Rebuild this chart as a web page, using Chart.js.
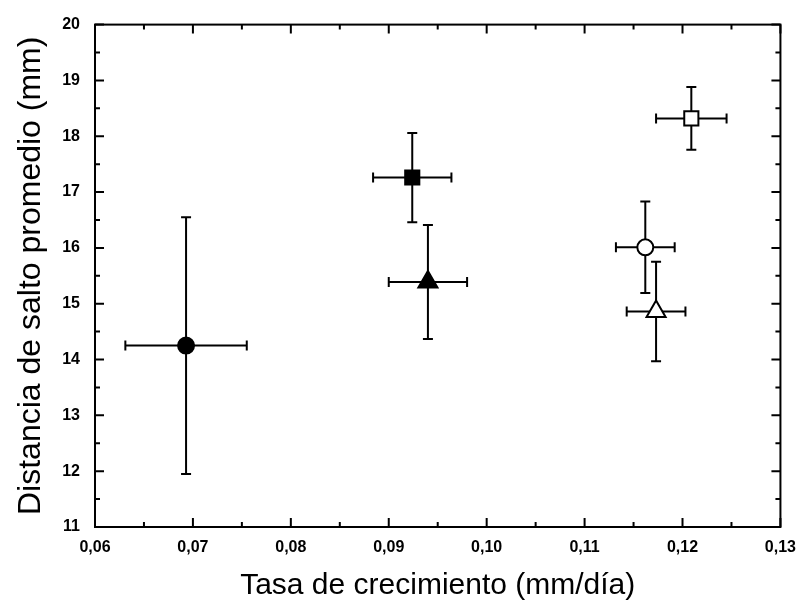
<!DOCTYPE html>
<html>
<head>
<meta charset="utf-8">
<script src="https://cdn.jsdelivr.net/npm/chart.js@4.4.1/dist/chart.umd.min.js"></script>
<style>
  body { margin: 0; background: #fff; }
</style>
</head>
<body>
<canvas id="myChart" width="807" height="604"></canvas>
<script>
// datos
const tasa = [0.0693, 0.0924, 0.0940, 0.1162, 0.1173, 0.1209];
const salto = [14.25, 17.26, 15.39, 16.01, 14.86, 18.32];
const errTasa = [0.0062, 0.0040, 0.0040, 0.0030, 0.0030, 0.0036];
const errSalto = [2.30, 0.80, 1.02, 0.82, 0.89, 0.56];
const simbolos = ['circle', 'rect', 'triangle', 'circle', 'triangle', 'rect'];
const rellenos = ['#000', '#000', '#000', '#fff', '#fff', '#fff'];
const radios = [8, 10, 11, 8, 11, 10];
const xTicks = [0.06, 0.13, 0.01];
const yTicks = [11, 20, 1];

window.addEventListener('DOMContentLoaded', function () {

    const puntos = tasa.map(function (x, i) {
        return { x: x, y: salto[i] };
    });

    const marco = {
        id: 'marco',
        beforeDatasetsDraw: function (chart) {
            // barras de error
            const ctx = chart.ctx;
            const sx = chart.scales.x;
            const sy = chart.scales.y;
            const cap = 5;
            ctx.save();
            ctx.strokeStyle = '#000';
            ctx.lineWidth = 2;
            puntos.forEach(function (p, i) {
                const px = sx.getPixelForValue(p.x);
                const py = sy.getPixelForValue(p.y);
                const x1 = sx.getPixelForValue(p.x - errTasa[i]);
                const x2 = sx.getPixelForValue(p.x + errTasa[i]);
                const y1 = sy.getPixelForValue(p.y + errSalto[i]);
                const y2 = sy.getPixelForValue(p.y - errSalto[i]);
                ctx.beginPath();
                ctx.moveTo(x1, py); ctx.lineTo(x2, py);
                ctx.moveTo(x1, py - cap); ctx.lineTo(x1, py + cap);
                ctx.moveTo(x2, py - cap); ctx.lineTo(x2, py + cap);
                ctx.moveTo(px, y1); ctx.lineTo(px, y2);
                ctx.moveTo(px - cap, y1); ctx.lineTo(px + cap, y1);
                ctx.moveTo(px - cap, y2); ctx.lineTo(px + cap, y2);
                ctx.stroke();
            });
            ctx.restore();
        },
        afterDatasetsDraw: function (chart) {
            const ctx = chart.ctx;
            const a = chart.chartArea;
            const sx = chart.scales.x;
            const sy = chart.scales.y;
            ctx.save();
            ctx.strokeStyle = '#000';
            ctx.lineWidth = 2;
            ctx.strokeRect(a.left, a.top, a.right - a.left, a.bottom - a.top);
            // marcas hacia dentro, en los cuatro lados
            ctx.beginPath();
            const xt = sx.ticks.map(function (t) { return t.value; });
            xt.forEach(function (v, i) {
                const px = sx.getPixelForValue(v);
                ctx.moveTo(px, a.bottom); ctx.lineTo(px, a.bottom - 9);
                ctx.moveTo(px, a.top); ctx.lineTo(px, a.top + 9);
                if (i < xt.length - 1) {
                    const pm = sx.getPixelForValue((v + xt[i + 1]) / 2);
                    ctx.moveTo(pm, a.bottom); ctx.lineTo(pm, a.bottom - 5);
                    ctx.moveTo(pm, a.top); ctx.lineTo(pm, a.top + 5);
                }
            });
            const yt = sy.ticks.map(function (t) { return t.value; });
            yt.forEach(function (v, i) {
                const py = sy.getPixelForValue(v);
                ctx.moveTo(a.left, py); ctx.lineTo(a.left + 9, py);
                ctx.moveTo(a.right, py); ctx.lineTo(a.right - 9, py);
                if (i < yt.length - 1) {
                    const pm = sy.getPixelForValue((v + yt[i + 1]) / 2);
                    ctx.moveTo(a.left, pm); ctx.lineTo(a.left + 5, pm);
                    ctx.moveTo(a.right, pm); ctx.lineTo(a.right - 5, pm);
                }
            });
            ctx.stroke();
            ctx.restore();
        }
    };

    const fam = '"Liberation Sans", Arial, sans-serif';

    new Chart(document.getElementById('myChart'), {
        type: 'scatter',
        data: {
            datasets: [{
                data: puntos,
                pointStyle: simbolos,
                pointRadius: radios,
                pointHoverRadius: radios,
                pointBackgroundColor: rellenos,
                pointBorderColor: '#000',
                pointBorderWidth: 2
            }]
        },
        options: {
            responsive: false,
            animation: false,
            layout: { padding: { top: 17, right: 25, left: 0, bottom: 0 } },
            plugins: {
                legend: { display: false },
                tooltip: { enabled: false }
            },
            scales: {
                x: {
                    type: 'linear',
                    min: xTicks[0],
                    max: xTicks[1],
                    afterFit: function (scale) { scale.height = 77; },
                    grid: { display: false, drawTicks: false },
                    border: { display: false },
                    ticks: {
                        stepSize: xTicks[2],
                        padding: 11,
                        color: '#000',
                        font: { family: fam, size: 16, weight: 'bold' },
                        maxRotation: 0,
                        callback: function (v) { return v.toFixed(2).replace('.', ','); }
                    },
                    title: {
                        display: true,
                        text: 'Tasa de crecimiento (mm/día)',
                        color: '#000',
                        font: { family: fam, size: 30, weight: 'normal' },
                        padding: { top: 4, bottom: 0 }
                    }
                },
                y: {
                    min: yTicks[0],
                    max: yTicks[1],
                    afterFit: function (scale) { scale.width = 95; },
                    grid: { display: false, drawTicks: false },
                    border: { display: false },
                    ticks: {
                        stepSize: yTicks[2],
                        padding: 15,
                        color: '#000',
                        font: { family: fam, size: 16, weight: 'bold' }
                    },
                    title: {
                        display: true,
                        text: 'Distancia de salto promedio (mm)',
                        color: '#000',
                        font: { family: fam, size: 32, weight: 'normal' },
                        padding: { top: 12, bottom: 0 }
                    }
                }
            }
        },
        plugins: [marco]
    });
});
</script>
</body>
</html>
